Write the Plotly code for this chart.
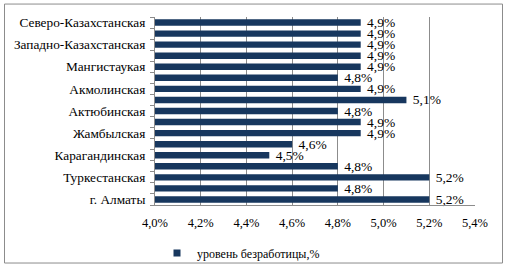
import plotly.graph_objects as go

categories = [
    "Северо-Казахстанская", "Павлодарская",
    "Западно-Казахстанская", "Костанайская",
    "Мангистаукая", "Восточно-Казахстанская",
    "Акмолинская", "Атырауская",
    "Актюбинская", "Кызылординская",
    "Жамбылская", "Алматинская",
    "Карагандинская", "г. Нур-Султан",
    "Туркестанская", "г. Шымкент",
    "г. Алматы",
]
values = [4.9, 4.9, 4.9, 4.9, 4.9, 4.8, 4.9, 5.1, 4.8, 4.9, 4.9, 4.6, 4.5, 4.8, 5.2, 4.8, 5.2]
shown_labels = ["Северо-Казахстанская", "Западно-Казахстанская", "Мангистаукая", "Акмолинская",
                "Актюбинская", "Жамбылская", "Карагандинская", "Туркестанская", "г. Алматы"]
x_ticks = [4.0, 4.2, 4.4, 4.6, 4.8, 5.0, 5.2, 5.4]
series_name = "уровень безработицы,%"

BAR = "#17375E"
GRID = "#8C8C8C"
FONT = "Liberation Serif, DejaVu Serif, serif"

W, H = 508, 280
L, R, T, B = 155, 33, 17, 67
pw, ph = W - L - R, H - T - B

texts = [" " + f"{v:.1f}%".replace(".", ",") for v in values]
ticktext = [c if c in shown_labels else "" for c in categories]

fig = go.Figure()
fig.add_trace(go.Bar(
    y=categories, x=values, orientation="h",
    marker=dict(color=BAR, line=dict(width=0)),
    text=texts, textposition="outside", constraintext="none", cliponaxis=False,
    textfont=dict(family=FONT, size=13.5, color="#000"),
    showlegend=False, hoverinfo="skip",
))
fig.add_trace(go.Scatter(
    x=[None], y=[None], mode="markers", name=series_name,
    marker=dict(symbol="square", size=7, color=BAR),
))

def px_to_paper_x(px):
    return (px - L) / pw

def px_to_paper_y(py):
    return (H - B - py) / ph

fig.add_shape(type="rect", xref="paper", yref="paper",
              x0=px_to_paper_x(4.5), x1=px_to_paper_x(502.5),
              y0=px_to_paper_y(273.5), y1=px_to_paper_y(3.5),
              line=dict(color=GRID, width=1), fillcolor="rgba(0,0,0,0)", layer="below")

fig.update_layout(
    width=W, height=H,
    margin=dict(l=L, r=R, t=T, b=B, pad=0),
    paper_bgcolor="white", plot_bgcolor="white",
    bargap=0.42,
    separators=", ",
    font=dict(family=FONT, size=13, color="#000"),
    showlegend=True,
    legend=dict(orientation="h", x=px_to_paper_x(157), y=px_to_paper_y(263),
                xanchor="left", yanchor="middle",
                font=dict(family=FONT, size=12), bgcolor="rgba(0,0,0,0)",
                itemwidth=30),
    xaxis=dict(range=[4.0, 5.4], tickvals=x_ticks, ticktext=[f"{v:.1f}%".replace(".", ",") for v in x_ticks],
               showgrid=True, gridcolor=GRID, gridwidth=1,
               showline=True, linecolor=GRID, linewidth=1,
               zeroline=False, ticks="", ticklabelstandoff=6, automargin=False,
               tickfont=dict(family=FONT, size=12.5)),
    yaxis=dict(type="category", categoryorder="array", categoryarray=categories,
               autorange="reversed", tickvals=categories, ticktext=ticktext,
               tickson="boundaries", ticks="outside", ticklen=4, tickcolor=GRID,
               showline=True, linecolor=GRID, linewidth=1, showgrid=False,
               ticklabelstandoff=6, automargin=False,
               tickfont=dict(family=FONT, size=13.3)),
)

fig.write_html("out.html", config={"displayModeBar": False},
               post_script="document.body.style.margin='0';document.body.style.overflow='hidden';")
